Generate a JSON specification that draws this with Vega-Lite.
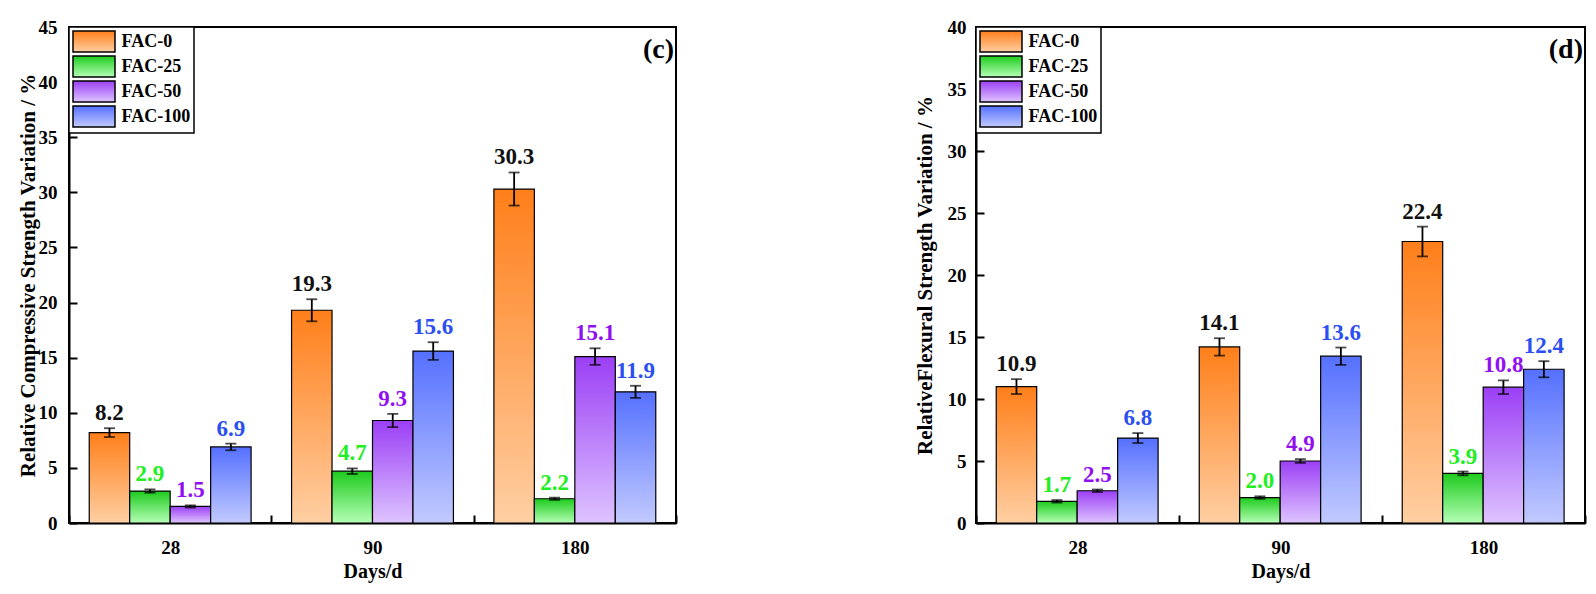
{
  "$schema": "https://vega.github.io/schema/vega-lite/v6.json",
  "padding": {"left": 16, "top": 17, "right": 5, "bottom": 5},
  "background": "white",
  "datasets": {
    "c": [
      {"day": "28", "series": "FAC-0", "value": 8.2, "lo": 7.8, "hi": 8.6, "label": "8.2"},
      {"day": "28", "series": "FAC-25", "value": 2.9, "lo": 2.75, "hi": 3.05, "label": "2.9"},
      {"day": "28", "series": "FAC-50", "value": 1.5, "lo": 1.4, "hi": 1.6, "label": "1.5"},
      {"day": "28", "series": "FAC-100", "value": 6.9, "lo": 6.6, "hi": 7.2, "label": "6.9"},
      {"day": "90", "series": "FAC-0", "value": 19.3, "lo": 18.3, "hi": 20.3, "label": "19.3"},
      {"day": "90", "series": "FAC-25", "value": 4.7, "lo": 4.45, "hi": 4.95, "label": "4.7"},
      {"day": "90", "series": "FAC-50", "value": 9.3, "lo": 8.7, "hi": 9.9, "label": "9.3"},
      {"day": "90", "series": "FAC-100", "value": 15.6, "lo": 14.8, "hi": 16.4, "label": "15.6"},
      {"day": "180", "series": "FAC-0", "value": 30.3, "lo": 28.8, "hi": 31.8, "label": "30.3"},
      {"day": "180", "series": "FAC-25", "value": 2.2, "lo": 2.1, "hi": 2.3, "label": "2.2"},
      {"day": "180", "series": "FAC-50", "value": 15.1, "lo": 14.35, "hi": 15.85, "label": "15.1"},
      {"day": "180", "series": "FAC-100", "value": 11.9, "lo": 11.35, "hi": 12.45, "label": "11.9"}
    ],
    "d": [
      {"day": "28", "series": "FAC-0", "value": 11.0, "lo": 10.4, "hi": 11.6, "label": "10.9"},
      {"day": "28", "series": "FAC-25", "value": 1.75, "lo": 1.65, "hi": 1.85, "label": "1.7"},
      {"day": "28", "series": "FAC-50", "value": 2.6, "lo": 2.5, "hi": 2.7, "label": "2.5"},
      {"day": "28", "series": "FAC-100", "value": 6.85, "lo": 6.45, "hi": 7.25, "label": "6.8"},
      {"day": "90", "series": "FAC-0", "value": 14.2, "lo": 13.5, "hi": 14.9, "label": "14.1"},
      {"day": "90", "series": "FAC-25", "value": 2.05, "lo": 1.95, "hi": 2.15, "label": "2.0"},
      {"day": "90", "series": "FAC-50", "value": 5.0, "lo": 4.85, "hi": 5.15, "label": "4.9"},
      {"day": "90", "series": "FAC-100", "value": 13.45, "lo": 12.75, "hi": 14.15, "label": "13.6"},
      {"day": "180", "series": "FAC-0", "value": 22.7, "lo": 21.5, "hi": 23.9, "label": "22.4"},
      {"day": "180", "series": "FAC-25", "value": 4.0, "lo": 3.85, "hi": 4.15, "label": "3.9"},
      {"day": "180", "series": "FAC-50", "value": 10.95, "lo": 10.4, "hi": 11.5, "label": "10.8"},
      {"day": "180", "series": "FAC-100", "value": 12.4, "lo": 11.75, "hi": 13.05, "label": "12.4"}
    ]
  },
  "hconcat": [
    {
      "width": 607,
      "height": 496,
      "data": {"name": "c"},
      "layer": [
        {
          "mark": {"type": "bar", "stroke": "black", "strokeWidth": 1.2},
          "encoding": {
            "x": {"field": "day", "type": "nominal", "sort": ["28", "90", "180"], "scale": {"paddingInner": 0, "paddingOuter": 0}, "axis": {"title": "Days/d"}},
            "xOffset": {"field": "series", "type": "nominal", "sort": ["FAC-0", "FAC-25", "FAC-50", "FAC-100"], "scale": {"paddingInner": 0, "paddingOuter": 0.5}},
            "y": {"field": "value", "type": "quantitative", "scale": {"domain": [0, 45], "nice": false}, "axis": {"title": "Relative Compressive Strength Variation / %", "values": [0, 5, 10, 15, 20, 25, 30, 35, 40, 45], "titlePadding": 0, "labelPadding": 20}},
            "fill": {
              "field": "series", "type": "nominal", "sort": ["FAC-0", "FAC-25", "FAC-50", "FAC-100"],
              "scale": {"domain": ["FAC-0", "FAC-25", "FAC-50", "FAC-100"], "range": [
                {"expr": "{gradient: 'linear', x1: 0, y1: 0, x2: 0, y2: 1, stops: [{offset: 0, color: '#ff7f1a'}, {offset: 1, color: '#ffcfa3'}]}"},
                {"expr": "{gradient: 'linear', x1: 0, y1: 0, x2: 0, y2: 1, stops: [{offset: 0, color: '#1ecb1e'}, {offset: 1, color: '#b5ffb5'}]}"},
                {"expr": "{gradient: 'linear', x1: 0, y1: 0, x2: 0, y2: 1, stops: [{offset: 0, color: '#9b3ff5'}, {offset: 1, color: '#dec4ff'}]}"},
                {"expr": "{gradient: 'linear', x1: 0, y1: 0, x2: 0, y2: 1, stops: [{offset: 0, color: '#5570ff'}, {offset: 1, color: '#c2caff'}]}"}
              ]},
              "legend": {"title": null}
            }
          }
        },
        {
          "mark": {"type": "rule", "strokeWidth": 1.8, "color": "black"},
          "encoding": {
            "x": {"field": "day", "type": "nominal", "sort": ["28", "90", "180"]},
            "xOffset": {"field": "series", "type": "nominal", "sort": ["FAC-0", "FAC-25", "FAC-50", "FAC-100"]},
            "y": {"field": "lo", "type": "quantitative"},
            "y2": {"field": "hi"}
          }
        },
        {
          "mark": {"type": "tick", "orient": "horizontal", "size": 11, "thickness": 1.8, "color": "black"},
          "encoding": {
            "x": {"field": "day", "type": "nominal", "sort": ["28", "90", "180"]},
            "xOffset": {"field": "series", "type": "nominal", "sort": ["FAC-0", "FAC-25", "FAC-50", "FAC-100"]},
            "y": {"field": "lo", "type": "quantitative"}
          }
        },
        {
          "mark": {"type": "tick", "orient": "horizontal", "size": 11, "thickness": 1.8, "color": "black"},
          "encoding": {
            "x": {"field": "day", "type": "nominal", "sort": ["28", "90", "180"]},
            "xOffset": {"field": "series", "type": "nominal", "sort": ["FAC-0", "FAC-25", "FAC-50", "FAC-100"]},
            "y": {"field": "hi", "type": "quantitative"}
          }
        },
        {
          "mark": {"type": "text", "fontWeight": "bold", "fontSize": 23, "baseline": "alphabetic", "dy": -8},
          "encoding": {
            "x": {"field": "day", "type": "nominal", "sort": ["28", "90", "180"]},
            "xOffset": {"field": "series", "type": "nominal", "sort": ["FAC-0", "FAC-25", "FAC-50", "FAC-100"]},
            "y": {"field": "hi", "type": "quantitative"},
            "text": {"field": "label"},
            "color": {"field": "series", "type": "nominal", "scale": {"domain": ["FAC-0", "FAC-25", "FAC-50", "FAC-100"], "range": ["#111111", "#22ee22", "#9010ee", "#2b4ff0"]}, "legend": null}
          }
        },
        {
          "data": {"values": [{"p": "(c)"}]},
          "mark": {"type": "text", "align": "right", "baseline": "top", "dx": -2, "dy": 9, "fontWeight": "bold", "fontSize": 28, "color": "black"},
          "encoding": {"x": {"value": "width"}, "y": {"value": 0}, "text": {"field": "p"}}
        }
      ],
      "resolve": {"scale": {"fill": "independent", "color": "independent"}}
    },
    {
      "width": 609,
      "height": 496,
      "data": {"name": "d"},
      "layer": [
        {
          "mark": {"type": "bar", "stroke": "black", "strokeWidth": 1.2},
          "encoding": {
            "x": {"field": "day", "type": "nominal", "sort": ["28", "90", "180"], "scale": {"paddingInner": 0, "paddingOuter": 0}, "axis": {"title": "Days/d"}},
            "xOffset": {"field": "series", "type": "nominal", "sort": ["FAC-0", "FAC-25", "FAC-50", "FAC-100"], "scale": {"paddingInner": 0, "paddingOuter": 0.5}},
            "y": {"field": "value", "type": "quantitative", "scale": {"domain": [0, 40], "nice": false}, "axis": {"title": "RelativeFlexural Strength Variation / %", "values": [0, 5, 10, 15, 20, 25, 30, 35, 40], "titlePadding": 12, "labelPadding": 18}},
            "fill": {
              "field": "series", "type": "nominal", "sort": ["FAC-0", "FAC-25", "FAC-50", "FAC-100"],
              "scale": {"domain": ["FAC-0", "FAC-25", "FAC-50", "FAC-100"], "range": [
                {"expr": "{gradient: 'linear', x1: 0, y1: 0, x2: 0, y2: 1, stops: [{offset: 0, color: '#ff7f1a'}, {offset: 1, color: '#ffcfa3'}]}"},
                {"expr": "{gradient: 'linear', x1: 0, y1: 0, x2: 0, y2: 1, stops: [{offset: 0, color: '#1ecb1e'}, {offset: 1, color: '#b5ffb5'}]}"},
                {"expr": "{gradient: 'linear', x1: 0, y1: 0, x2: 0, y2: 1, stops: [{offset: 0, color: '#9b3ff5'}, {offset: 1, color: '#dec4ff'}]}"},
                {"expr": "{gradient: 'linear', x1: 0, y1: 0, x2: 0, y2: 1, stops: [{offset: 0, color: '#5570ff'}, {offset: 1, color: '#c2caff'}]}"}
              ]},
              "legend": {"title": null}
            }
          }
        },
        {
          "mark": {"type": "rule", "strokeWidth": 1.8, "color": "black"},
          "encoding": {
            "x": {"field": "day", "type": "nominal", "sort": ["28", "90", "180"]},
            "xOffset": {"field": "series", "type": "nominal", "sort": ["FAC-0", "FAC-25", "FAC-50", "FAC-100"]},
            "y": {"field": "lo", "type": "quantitative"},
            "y2": {"field": "hi"}
          }
        },
        {
          "mark": {"type": "tick", "orient": "horizontal", "size": 11, "thickness": 1.8, "color": "black"},
          "encoding": {
            "x": {"field": "day", "type": "nominal", "sort": ["28", "90", "180"]},
            "xOffset": {"field": "series", "type": "nominal", "sort": ["FAC-0", "FAC-25", "FAC-50", "FAC-100"]},
            "y": {"field": "lo", "type": "quantitative"}
          }
        },
        {
          "mark": {"type": "tick", "orient": "horizontal", "size": 11, "thickness": 1.8, "color": "black"},
          "encoding": {
            "x": {"field": "day", "type": "nominal", "sort": ["28", "90", "180"]},
            "xOffset": {"field": "series", "type": "nominal", "sort": ["FAC-0", "FAC-25", "FAC-50", "FAC-100"]},
            "y": {"field": "hi", "type": "quantitative"}
          }
        },
        {
          "mark": {"type": "text", "fontWeight": "bold", "fontSize": 23, "baseline": "alphabetic", "dy": -8},
          "encoding": {
            "x": {"field": "day", "type": "nominal", "sort": ["28", "90", "180"]},
            "xOffset": {"field": "series", "type": "nominal", "sort": ["FAC-0", "FAC-25", "FAC-50", "FAC-100"]},
            "y": {"field": "hi", "type": "quantitative"},
            "text": {"field": "label"},
            "color": {"field": "series", "type": "nominal", "scale": {"domain": ["FAC-0", "FAC-25", "FAC-50", "FAC-100"], "range": ["#111111", "#22ee22", "#9010ee", "#2b4ff0"]}, "legend": null}
          }
        },
        {
          "data": {"values": [{"p": "(d)"}]},
          "mark": {"type": "text", "align": "right", "baseline": "top", "dx": -2, "dy": 9, "fontWeight": "bold", "fontSize": 28, "color": "black"},
          "encoding": {"x": {"value": "width"}, "y": {"value": 0}, "text": {"field": "p"}}
        }
      ],
      "resolve": {"scale": {"fill": "independent", "color": "independent"}}
    }
  ],
  "spacing": 235,
  "resolve": {"scale": {"fill": "independent", "color": "independent", "y": "independent", "x": "independent"}, "legend": {"fill": "independent", "color": "independent"}},
  "config": {
    "font": "'Liberation Serif', 'Times New Roman', 'DejaVu Serif', serif",
    "text": {"font": "'Liberation Serif', 'Times New Roman', 'DejaVu Serif', serif"},
    "view": {"stroke": "black", "strokeWidth": 2},
    "axis": {
      "domainColor": "black", "domainWidth": 2, "tickColor": "black", "tickWidth": 2, "tickSize": -8,
      "labelFont": "'Liberation Serif', 'Times New Roman', serif", "labelFontWeight": "bold", "labelFontSize": 19, "labelColor": "black",
      "titleFont": "'Liberation Serif', 'Times New Roman', serif", "titleFontWeight": "bold", "titleColor": "black",
      "grid": false
    },
    "axisX": {"labelAngle": 0, "tickBand": "extent", "labelPadding": 23, "titlePadding": 4, "titleFontSize": 20},
    "axisY": {"labelFlush": false, "titleFontSize": 21},
    "legend": {
      "orient": "top-left", "offset": 0, "padding": 3,
      "strokeColor": "black", "strokeWidth": 1.5, "fillColor": "white",
      "symbolType": "M-2,-1H2V1H-2Z", "symbolSize": 441, "symbolOffset": 10.5,
      "symbolStrokeColor": "black", "symbolStrokeWidth": 1.5,
      "labelFont": "'Liberation Serif', 'Times New Roman', serif", "labelFontSize": 18, "labelFontWeight": "bold", "labelColor": "black",
      "labelOffset": 16, "rowPadding": -2
    }
  }
}
